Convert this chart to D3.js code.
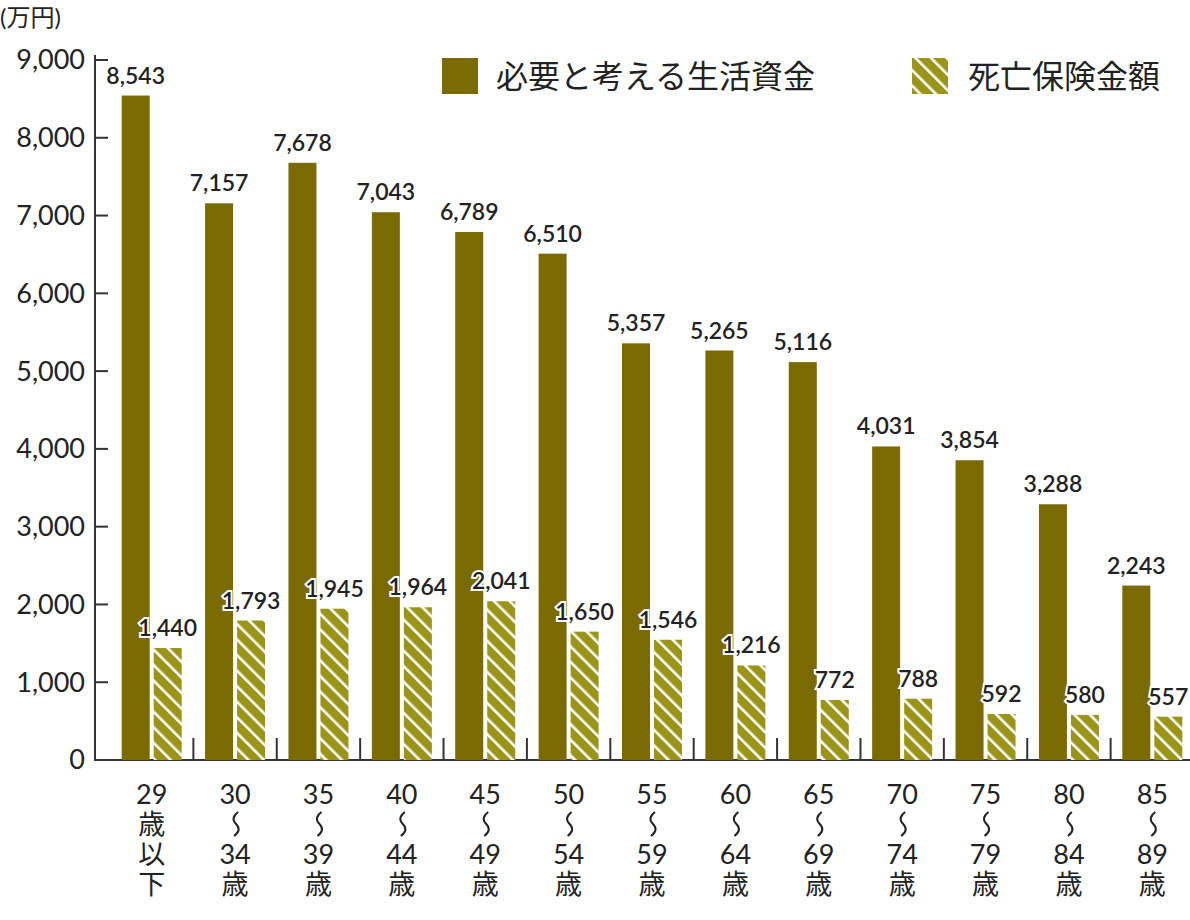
<!DOCTYPE html><html><head><meta charset="utf-8"><script src="https://cdn.jsdelivr.net/npm/d3@7"></script>
<style>body{margin:0;background:#fff}text{font-family:Lato,"Noto Sans CJK JP",sans-serif;fill:#222}</style></head><body><svg id="c" width="1190" height="920"></svg><script>
const categories=[["29","歳","以","下"],["30","∫","34","歳"],["35","∫","39","歳"],["40","∫","44","歳"],["45","∫","49","歳"],["50","∫","54","歳"],["55","∫","59","歳"],["60","∫","64","歳"],["65","∫","69","歳"],["70","∫","74","歳"],["75","∫","79","歳"],["80","∫","84","歳"],["85","∫","89","歳"]];
const living=[8543,7157,7678,7043,6789,6510,5357,5265,5116,4031,3854,3288,2243];
const insurance=[1440,1793,1945,1964,2041,1650,1546,1216,772,788,592,580,557];
const yTicks=[0,1000,2000,3000,4000,5000,6000,7000,8000,9000];
const seriesNames=["必要と考える生活資金","死亡保険金額"];
const svg=d3.select("#c");
const olive="#7a6a00",light="#9a9418";
const defs=svg.append("defs");
const p=defs.append("pattern").attr("id","h").attr("patternUnits","userSpaceOnUse").attr("width",11).attr("height",11).attr("patternTransform","rotate(-45)");
p.append("rect").attr("width",11).attr("height",11).attr("fill",light);
p.append("rect").attr("x",0).attr("width",2.6).attr("height",11).attr("fill","#fff");
const y=d3.scaleLinear().domain([0,9000]).range([760,60]);
const x=d3.scaleBand().domain(d3.range(13)).range([110,1194]);
const g=svg.append("g");
g.append("line").attr("x1",95).attr("x2",95).attr("y1",55).attr("y2",760).attr("stroke","#333").attr("stroke-width",2);
g.append("line").attr("x1",94).attr("x2",1190).attr("y1",760).attr("y2",760).attr("stroke","#333").attr("stroke-width",2);
yTicks.forEach(t=>{
 if(t>0)g.append("line").attr("x1",95).attr("x2",108).attr("y1",y(t)).attr("y2",y(t)).attr("stroke","#333").attr("stroke-width",2);
 g.append("text").attr("x",85).attr("y",y(t)).attr("dy","0.35em").attr("text-anchor","end").attr("font-size",27).text(d3.format(",")(t));
});
g.append("text").attr("x",0).attr("y",26).attr("font-size",24).text("(万円)");
d3.range(1,13).forEach(i=>g.append("line").attr("x1",x(i)).attr("x2",x(i)).attr("y1",760).attr("y2",738).attr("stroke","#333").attr("stroke-width",2));
const bw=28;
living.forEach((v,i)=>{
 const cx=x(i)+x.bandwidth()/2;
 g.append("rect").attr("x",cx-bw-2).attr("y",y(v)).attr("width",bw).attr("height",760-y(v)).attr("fill",olive);
 g.append("rect").attr("x",cx+2).attr("y",y(insurance[i])).attr("width",bw).attr("height",760-y(insurance[i])).attr("fill","url(#h)");
});
function lab(tx,ty,s){g.append("text").attr("x",tx).attr("y",ty).attr("text-anchor","middle").attr("font-size",23).attr("font-weight",600).attr("stroke","#fff").attr("stroke-width",4).attr("paint-order","stroke").text(s);}
living.forEach((v,i)=>{const cx=x(i)+x.bandwidth()/2;lab(cx-bw/2-2,y(v)-12,d3.format(",")(v));lab(cx+bw/2+2,y(insurance[i])-12,d3.format(",")(insurance[i]));});
categories.forEach((c,i)=>{const cx=x(i)+x.bandwidth()/2;c.forEach((s,j)=>{
 g.append("text").attr("x",cx).attr("y",804+j*30).attr("text-anchor","middle").attr("font-size",27).text(s==="∫"?"":s);
 if(s==="∫")g.append("path").attr("d",`M${cx+3},${804+j*30-22} q-8,6 -2,12 q6,6 -2,12`).attr("fill","none").attr("stroke","#222").attr("stroke-width",2);
});});
g.append("rect").attr("x",442).attr("y",58).attr("width",36).attr("height",36).attr("fill",olive);
g.append("text").attr("x",496).attr("y",88).attr("font-size",32).text(seriesNames[0]);
g.append("rect").attr("x",912).attr("y",58).attr("width",36).attr("height",36).attr("fill","url(#h)");
g.append("text").attr("x",968).attr("y",88).attr("font-size",32).text(seriesNames[1]);
</script></body></html>
